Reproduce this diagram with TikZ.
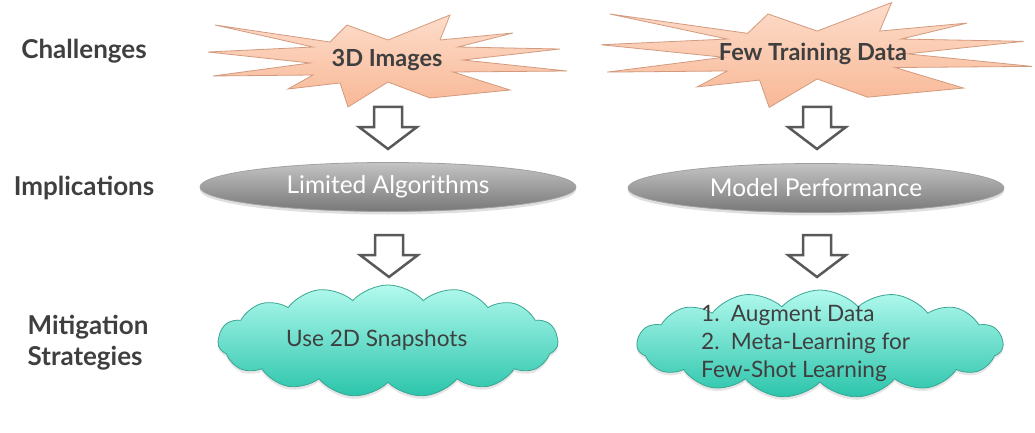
\documentclass[tikz,border=0pt]{standalone}
\usepackage{fontspec}
\setmainfont{Lato}
\usepackage{xcolor}
\usepackage{tikz}
\usetikzlibrary{shapes.geometric}
\usetikzlibrary{shapes.symbols}
\usetikzlibrary{shadows}
\definecolor{labelgray}{HTML}{3F3F3F}
\definecolor{bursttop}{HTML}{FDDCCA}
\definecolor{burstbottom}{HTML}{F8B896}
\definecolor{burstedge}{HTML}{D39A7E}
\definecolor{elltop}{HTML}{C4C4C4}
\definecolor{ellbottom}{HTML}{777777}
\definecolor{elledge}{HTML}{A0A0A0}
\definecolor{cloudtop}{HTML}{B2FAEE}
\definecolor{cloudbottom}{HTML}{2BC4AB}
\definecolor{cloudedge}{HTML}{3BA593}
\definecolor{arrowgray}{HTML}{595959}
\tikzset{
    rowlabel/.style = {font=\fontsize{26}{31}\selectfont\bfseries, text=labelgray, align=left, inner sep=0pt},
    bursttext/.style = {font=\fontsize{23.5}{28}\selectfont\bfseries, text=labelgray, inner sep=0pt},
    burstfill/.style = {draw=burstedge, line width=0.8pt, top color=bursttop, bottom color=burstbottom},
    implnode/.style = {ellipse, draw=elledge, line width=0.8pt, top color=elltop, bottom color=ellbottom, text=white, font=\fontsize{24.5}{29}\selectfont, minimum width=376pt, minimum height=49pt, inner sep=0pt, drop shadow={opacity=0.25, shadow xshift=0pt, shadow yshift=-3pt}},
    cloudnode/.style = {cloud, cloud puffs=15, cloud puff arc=95, cloud ignores aspect, draw=cloudedge, line width=0.8pt, top color=cloudtop, bottom color=cloudbottom, inner sep=0pt, drop shadow={opacity=0.2, shadow xshift=0pt, shadow yshift=-3pt}},
    cloudtext/.style = {font=\fontsize{22.6}{28}\selectfont, text=labelgray, align=left, inner sep=0pt},
    arrowline/.style = {draw=arrowgray, fill=white, line width=2.5pt},
    pics/burst/.style = {code={
        \draw[burstfill] (-172,36) -- (-57,19) -- (-40,36) -- (1,21) -- (63,46) -- (53,21) -- (126,28) -- (71,14) -- (173,12) -- (76,1) -- (180,-10) -- (66,-11) -- (123,-29) -- (43,-37) -- (1,-21) -- (-39,-46) -- (-47,-22) -- (-99,-28) -- (-74,-14) -- (-174,-15) -- (-77,-2) -- (-179,9) -- (-74,14) -- cycle;
    }},
    pics/downarrow/.style = {code={
        \draw[arrowline] (-14,0) -- (14,0) -- (14,-20) -- (29,-20) -- (0,-42) -- (-29,-20) -- (-14,-20) -- cycle;
    }}
}
\begin{document}
\begin{tikzpicture}[x=1pt, y=1pt]
    \useasboundingbox (0,0) rectangle (1035,-433);
    \node[rowlabel, anchor=base] (chal) at (84,-59) {Challenges};
    \node[rowlabel, anchor=base] (impl) at (84,-195) {Implications};
    \node[rowlabel] (miti) at (88,-343) {Mitigation\\Strategies};

    \pic at (387,-61) {burst};
    \node[bursttext, anchor=base] (chalA) at (387,-67) {3D Images};
    \pic[xscale=1.2, yscale=1.14] at (816,-55) {burst};
    \node[bursttext, anchor=base] (chalB) at (813,-61) {Few Training Data};

    \pic at (388,-107) {downarrow};
    \pic at (817,-107) {downarrow};

    \node[implnode] (implA) at (388,-187) {Limited Algorithms};
    \node[implnode] (implB) at (816,-188) {Model Performance};

    \pic at (389,-235) {downarrow};
    \pic at (817,-235) {downarrow};

    \node[cloudnode, minimum width=340pt, minimum height=112pt] (mitA) at (388,-341) {};
    \node[cloudtext, anchor=base west] (mitAtext) at (286,-346) {Use 2D Snapshots};
    \node[cloudnode, minimum width=366pt, minimum height=108pt] (mitB) at (820,-344) {};
    \node[cloudtext, anchor=west] (mitBtext) at (701,-343) {1.\enspace Augment Data\\2.\enspace Meta-Learning for\\Few-Shot Learning};
\end{tikzpicture}
\end{document}
